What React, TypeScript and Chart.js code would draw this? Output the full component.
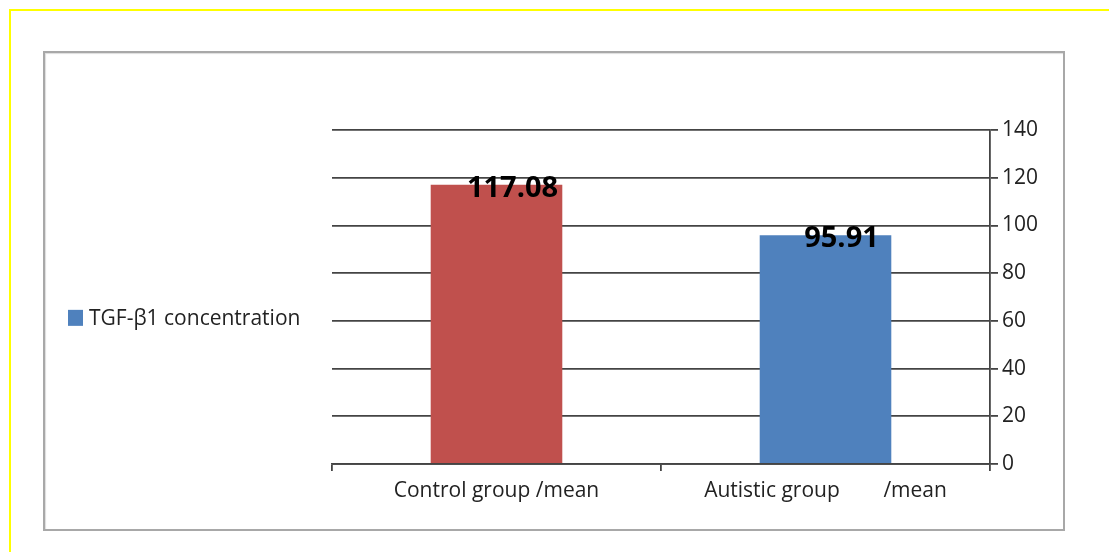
import React, { useEffect, useRef } from "react";
import { Chart, registerables } from "chart.js";

Chart.register(...registerables);

const categories = ["Control group /mean", "Autistic group        /mean"];
const values = [117.08, 95.91];
const valueLabels = ["117.08", "95.91"];
const seriesName = "TGF-β1 concentration";
const barColors = ["#C0504D", "#4F81BD"];
const legendColor = "#4F81BD";
const yMin = 0;
const yMax = 140;
const yStep = 20;

const FONT = "'Open Sans', 'Noto Sans', sans-serif";

const overlayPlugin = {
  id: "overlay",
  afterDatasetsDraw(chart: any) {
    const ctx = chart.ctx;
    const meta = chart.getDatasetMeta(0);
    const yScale = chart.scales.y;
    ctx.save();
    ctx.fillStyle = "#000";
    ctx.font = `bold 29px ${FONT}`;
    ctx.textAlign = "center";
    ctx.textBaseline = "middle";
    meta.data.forEach((bar: any, i: number) => {
      const y = yScale.getPixelForValue(values[i]);
      ctx.fillText(valueLabels[i], bar.x + 16, y + 4);
    });
    ctx.restore();
  },
  afterDraw(chart: any) {
    const ctx = chart.ctx;
    const yScale = chart.scales.y;
    const cy = yScale.getPixelForValue(60) - 2;
    ctx.save();
    ctx.fillStyle = legendColor;
    ctx.fillRect(68, cy - 9, 15, 16);
    ctx.fillStyle = "#222";
    ctx.font = `21px ${FONT}`;
    ctx.textAlign = "left";
    ctx.textBaseline = "middle";
    ctx.fillText(seriesName, 89, cy);
    ctx.restore();
  },
};

export default function App() {
  const ref = useRef<HTMLCanvasElement | null>(null);

  useEffect(() => {
    document.body.style.margin = "0";
    if (!ref.current) return;
    const chart = new Chart(ref.current, {
      type: "bar",
      data: {
        labels: categories,
        datasets: [
          {
            label: seriesName,
            data: values,
            backgroundColor: barColors,
            borderWidth: 0,
            categoryPercentage: 1,
            barPercentage: 0.4,
          },
        ],
      },
      options: {
        animation: false,
        responsive: false,
        devicePixelRatio: 1,
        layout: { padding: { left: 332, top: 130, right: 0, bottom: 0 } },
        plugins: { legend: { display: false }, tooltip: { enabled: false } },
        scales: {
          x: {
            grid: {
              offset: true,
              drawOnChartArea: false,
              drawTicks: true,
              tickLength: 7,
              color: "#444",
              lineWidth: 1.8,
            },
            border: { display: true, color: "#444", width: 1.8 },
            ticks: {
              color: "#222",
              font: { family: FONT, size: 21 },
              padding: 7,
              maxRotation: 0,
            },
            afterFit(scale: any) {
              scale.height = 88;
            },
          },
          y: {
            position: "right",
            min: yMin,
            max: yMax,
            grid: {
              color: "#444",
              lineWidth: 1.8,
              drawTicks: true,
              tickLength: 8,
            },
            border: { display: true, color: "#444", width: 1.8 },
            ticks: {
              stepSize: yStep,
              color: "#222",
              font: { family: FONT, size: 21 },
              padding: 4,
            },
            afterFit(scale: any) {
              scale.width = 119;
            },
          },
        },
      },
      plugins: [overlayPlugin],
    });
    return () => chart.destroy();
  }, []);

  return (
    <div style={{ position: "fixed", left: 0, top: 0, width: 1109, height: 552, background: "#fff", overflow: "hidden" }}>
      <div
        style={{
          position: "absolute",
          left: 9,
          top: 9,
          width: 1200,
          height: 600,
          borderLeft: "2px solid #ffff00",
          borderTop: "2px solid #ffff00",
        }}
      />
      <div
        style={{
          position: "absolute",
          left: 43,
          top: 51,
          width: 1018,
          height: 476,
          border: "2px solid #a8a8a8",
          boxShadow: "inset 1px 1px 1px #ddd",
        }}
      />
      <canvas ref={ref} width={1109} height={552} style={{ position: "absolute", left: 0, top: 0, width: 1109, height: 552 }} />
    </div>
  );
}
